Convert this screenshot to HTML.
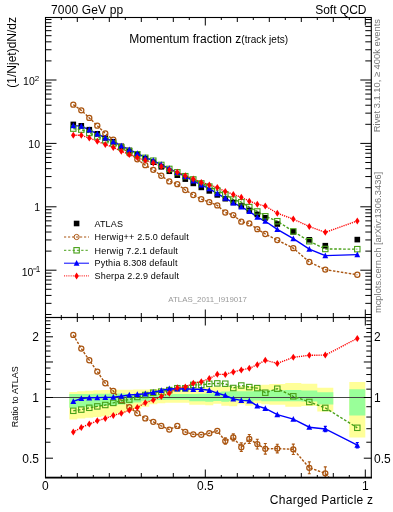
<!DOCTYPE html><html><head><meta charset="utf-8"><style>html,body{margin:0;padding:0;background:#fff;}svg{display:block;}</style></head><body><svg width="393" height="512" viewBox="0 0 393 512">
<rect width="393" height="512" fill="#fff"/>
<defs><clipPath id="cu"><rect x="45.5" y="17.5" width="325" height="300"/></clipPath><clipPath id="cl"><rect x="45.5" y="317.5" width="325" height="160"/></clipPath></defs>
<g clip-path="url(#cl)">
<path d="M69.30,392.00 L77.30,392.00 L77.30,391.30 L85.30,391.30 L85.30,390.80 L93.30,390.80 L93.30,390.30 L101.30,390.30 L101.30,390.00 L109.30,390.00 L109.30,389.80 L117.30,389.80 L117.30,389.80 L125.30,389.80 L125.30,389.70 L133.30,389.70 L133.30,389.60 L141.30,389.60 L141.30,389.40 L149.30,389.40 L149.30,389.10 L157.30,389.10 L157.30,388.70 L165.30,388.70 L165.30,388.00 L173.30,388.00 L173.30,387.80 L181.30,387.80 L181.30,387.60 L189.30,387.60 L189.30,387.40 L197.30,387.40 L197.30,387.20 L205.30,387.20 L205.30,387.00 L213.30,387.00 L213.30,386.80 L221.30,386.80 L221.30,386.60 L229.30,386.60 L229.30,386.40 L237.30,386.40 L237.30,386.20 L245.30,386.20 L245.30,386.00 L253.30,386.00 L253.30,385.50 L261.30,385.50 L261.30,384.80 L269.30,384.80 L269.30,384.00 L285.30,384.00 L285.30,383.00 L301.30,383.00 L301.30,383.70 L317.30,383.70 L317.30,387.80 L333.30,387.80 L333.30,411.60 L317.30,411.60 L317.30,406.10 L301.30,406.10 L301.30,406.70 L285.30,406.70 L285.30,404.70 L269.30,404.70 L269.30,404.20 L261.30,404.20 L261.30,403.30 L253.30,403.30 L253.30,405.70 L245.30,405.70 L245.30,404.20 L237.30,404.20 L237.30,406.20 L229.30,406.20 L229.30,405.70 L221.30,405.70 L221.30,403.70 L213.30,403.70 L213.30,405.30 L205.30,405.30 L205.30,404.80 L197.30,404.80 L197.30,404.80 L189.30,404.80 L189.30,402.70 L181.30,402.70 L181.30,402.70 L173.30,402.70 L173.30,402.70 L165.30,402.70 L165.30,403.20 L157.30,403.20 L157.30,404.20 L149.30,404.20 L149.30,406.80 L141.30,406.80 L141.30,409.00 L133.30,409.00 L133.30,411.00 L125.30,411.00 L125.30,413.00 L117.30,413.00 L117.30,415.00 L109.30,415.00 L109.30,416.20 L101.30,416.20 L101.30,417.00 L93.30,417.00 L93.30,417.80 L85.30,417.80 L85.30,418.60 L77.30,418.60 L77.30,419.40 L69.30,419.40Z M349.30,382.10 L365.30,382.10 L365.30,437.40 L349.30,437.40Z " fill="#ffff99"/>
<path d="M69.30,394.10 L77.30,394.10 L77.30,394.00 L85.30,394.00 L85.30,393.90 L93.30,393.90 L93.30,393.80 L101.30,393.80 L101.30,393.70 L109.30,393.70 L109.30,393.50 L117.30,393.50 L117.30,393.50 L125.30,393.50 L125.30,394.00 L133.30,394.00 L133.30,394.50 L141.30,394.50 L141.30,394.80 L149.30,394.80 L149.30,394.80 L157.30,394.80 L157.30,394.60 L165.30,394.60 L165.30,394.30 L173.30,394.30 L173.30,394.10 L181.30,394.10 L181.30,394.10 L189.30,394.10 L189.30,394.00 L197.30,394.00 L197.30,393.80 L205.30,393.80 L205.30,393.50 L213.30,393.50 L213.30,392.00 L221.30,392.00 L221.30,391.60 L229.30,391.60 L229.30,391.30 L237.30,391.30 L237.30,391.20 L245.30,391.20 L245.30,391.20 L253.30,391.20 L253.30,391.00 L261.30,391.00 L261.30,390.60 L269.30,390.60 L269.30,390.20 L285.30,390.20 L285.30,390.00 L301.30,390.00 L301.30,390.60 L317.30,390.60 L317.30,392.30 L333.30,392.30 L333.30,404.40 L317.30,404.40 L317.30,401.40 L301.30,401.40 L301.30,401.30 L285.30,401.30 L285.30,401.30 L269.30,401.30 L269.30,401.30 L261.30,401.30 L261.30,400.50 L253.30,400.50 L253.30,401.70 L245.30,401.70 L245.30,400.60 L237.30,400.60 L237.30,401.10 L229.30,401.10 L229.30,401.70 L221.30,401.70 L221.30,401.10 L213.30,401.10 L213.30,401.70 L205.30,401.70 L205.30,401.20 L197.30,401.20 L197.30,401.20 L189.30,401.20 L189.30,399.70 L181.30,399.70 L181.30,399.70 L173.30,399.70 L173.30,399.70 L165.30,399.70 L165.30,399.90 L157.30,399.90 L157.30,400.20 L149.30,400.20 L149.30,400.70 L141.30,400.70 L141.30,402.50 L133.30,402.50 L133.30,403.50 L125.30,403.50 L125.30,404.50 L117.30,404.50 L117.30,405.30 L109.30,405.30 L109.30,405.80 L101.30,405.80 L101.30,406.30 L93.30,406.30 L93.30,406.80 L85.30,406.80 L85.30,407.30 L77.30,407.30 L77.30,407.80 L69.30,407.80Z M349.30,389.30 L365.30,389.30 L365.30,415.60 L349.30,415.60Z " fill="#99ff99"/>
<line x1="45.5" y1="397.5" x2="371.3" y2="397.5" stroke="#444" stroke-width="1.0"/>
</g>
<g clip-path="url(#cu)">
<polyline points="73.30,104.65 81.30,110.37 89.30,117.93 97.30,125.63 105.30,133.39 113.30,139.75 121.30,147.21 129.30,153.43 137.30,159.35 145.30,165.19 153.30,169.87 161.30,175.76 169.30,181.38 177.30,184.16 185.30,189.98 193.30,195.01 201.30,199.14 209.30,202.16 217.30,205.40 225.30,212.45 233.30,215.09 241.30,221.68 249.30,223.44 257.30,229.15 265.30,233.98 277.30,240.12 293.30,248.14 309.30,261.98 325.30,269.61 357.30,274.71" fill="none" stroke="#aa5510" stroke-width="1.4" stroke-dasharray="2.5,1.5"/>
<polyline points="73.30,128.60 81.30,129.62 89.30,132.95 97.30,136.61 105.30,140.27 113.30,143.50 121.30,147.31 129.30,151.06 137.30,154.24 145.30,157.81 153.30,160.69 161.30,164.94 169.30,168.92 177.30,172.27 185.30,176.20 193.30,179.43 201.30,183.43 209.30,186.58 217.30,190.45 225.30,194.35 233.30,199.50 241.30,202.21 249.30,207.07 257.30,211.48 265.30,216.29 277.30,221.22 293.30,231.42 309.30,241.22 325.30,248.98 357.30,249.16" fill="none" stroke="#48a018" stroke-width="1.4" stroke-dasharray="2.7,1.75"/>
<polyline points="73.30,125.63 81.30,126.12 89.30,129.79 97.30,133.83 105.30,137.87 113.30,141.71 121.30,145.89 129.30,149.58 137.30,153.45 145.30,157.43 153.30,160.56 161.30,164.56 169.30,168.51 177.30,172.52 185.30,176.36 193.30,180.81 201.30,184.81 209.30,188.63 217.30,193.54 225.30,198.07 233.30,202.94 241.30,206.91 249.30,211.39 257.30,217.10 265.30,221.27 277.30,229.39 293.30,238.61 309.30,249.17 325.30,255.64 357.30,254.65" fill="none" stroke="#0000ff" stroke-width="1.4"/>
<polyline points="73.30,135.28 81.30,135.30 89.30,138.09 97.30,141.15 105.30,144.49 113.30,147.45 121.30,151.25 129.30,154.44 137.30,157.55 145.30,160.24 153.30,162.99 161.30,166.48 169.30,169.93 177.30,172.14 185.30,175.76 193.30,178.89 201.30,182.42 209.30,184.91 217.30,187.58 225.30,191.41 233.30,194.46 241.30,197.29 249.30,201.14 257.30,204.13 265.30,206.03 277.30,213.24 293.30,219.12 309.30,226.49 325.30,232.32 357.30,220.96" fill="none" stroke="#ff0000" stroke-width="1.4" stroke-dasharray="1.2,1.0"/>
<rect x="70.50" y="121.60" width="5.6" height="5.6" fill="#000"/>
<rect x="78.50" y="123.00" width="5.6" height="5.6" fill="#000"/>
<rect x="86.50" y="126.90" width="5.6" height="5.6" fill="#000"/>
<rect x="94.50" y="131.00" width="5.6" height="5.6" fill="#000"/>
<rect x="102.50" y="135.10" width="5.6" height="5.6" fill="#000"/>
<rect x="110.50" y="139.00" width="5.6" height="5.6" fill="#000"/>
<rect x="118.50" y="143.50" width="5.6" height="5.6" fill="#000"/>
<rect x="126.50" y="147.60" width="5.6" height="5.6" fill="#000"/>
<rect x="134.50" y="151.60" width="5.6" height="5.6" fill="#000"/>
<rect x="142.50" y="155.80" width="5.6" height="5.6" fill="#000"/>
<rect x="150.50" y="159.40" width="5.6" height="5.6" fill="#000"/>
<rect x="158.50" y="164.00" width="5.6" height="5.6" fill="#000"/>
<rect x="166.50" y="168.45" width="5.6" height="5.6" fill="#000"/>
<rect x="174.50" y="172.40" width="5.6" height="5.6" fill="#000"/>
<rect x="182.50" y="176.30" width="5.6" height="5.6" fill="#000"/>
<rect x="190.50" y="180.60" width="5.6" height="5.6" fill="#000"/>
<rect x="198.50" y="184.60" width="5.6" height="5.6" fill="#000"/>
<rect x="206.50" y="188.10" width="5.6" height="5.6" fill="#000"/>
<rect x="214.50" y="192.10" width="5.6" height="5.6" fill="#000"/>
<rect x="222.50" y="195.90" width="5.6" height="5.6" fill="#000"/>
<rect x="230.50" y="199.70" width="5.6" height="5.6" fill="#000"/>
<rect x="238.50" y="203.20" width="5.6" height="5.6" fill="#000"/>
<rect x="246.50" y="207.55" width="5.6" height="5.6" fill="#000"/>
<rect x="254.50" y="211.65" width="5.6" height="5.6" fill="#000"/>
<rect x="262.50" y="215.00" width="5.6" height="5.6" fill="#000"/>
<rect x="274.50" y="221.20" width="5.6" height="5.6" fill="#000"/>
<rect x="290.50" y="229.00" width="5.6" height="5.6" fill="#000"/>
<rect x="306.50" y="237.00" width="5.6" height="5.6" fill="#000"/>
<rect x="322.50" y="242.90" width="5.6" height="5.6" fill="#000"/>
<rect x="354.50" y="236.80" width="5.6" height="5.6" fill="#000"/>
<circle cx="73.30" cy="104.65" r="2.55" fill="none" stroke="#aa5510" stroke-width="1.25"/>
<circle cx="81.30" cy="110.37" r="2.55" fill="none" stroke="#aa5510" stroke-width="1.25"/>
<circle cx="89.30" cy="117.93" r="2.55" fill="none" stroke="#aa5510" stroke-width="1.25"/>
<circle cx="97.30" cy="125.63" r="2.55" fill="none" stroke="#aa5510" stroke-width="1.25"/>
<circle cx="105.30" cy="133.39" r="2.55" fill="none" stroke="#aa5510" stroke-width="1.25"/>
<circle cx="113.30" cy="139.75" r="2.55" fill="none" stroke="#aa5510" stroke-width="1.25"/>
<circle cx="121.30" cy="147.21" r="2.55" fill="none" stroke="#aa5510" stroke-width="1.25"/>
<circle cx="129.30" cy="153.43" r="2.55" fill="none" stroke="#aa5510" stroke-width="1.25"/>
<circle cx="137.30" cy="159.35" r="2.55" fill="none" stroke="#aa5510" stroke-width="1.25"/>
<circle cx="145.30" cy="165.19" r="2.55" fill="none" stroke="#aa5510" stroke-width="1.25"/>
<circle cx="153.30" cy="169.87" r="2.55" fill="none" stroke="#aa5510" stroke-width="1.25"/>
<circle cx="161.30" cy="175.76" r="2.55" fill="none" stroke="#aa5510" stroke-width="1.25"/>
<circle cx="169.30" cy="181.38" r="2.55" fill="none" stroke="#aa5510" stroke-width="1.25"/>
<circle cx="177.30" cy="184.16" r="2.55" fill="none" stroke="#aa5510" stroke-width="1.25"/>
<circle cx="185.30" cy="189.98" r="2.55" fill="none" stroke="#aa5510" stroke-width="1.25"/>
<circle cx="193.30" cy="195.01" r="2.55" fill="none" stroke="#aa5510" stroke-width="1.25"/>
<circle cx="201.30" cy="199.14" r="2.55" fill="none" stroke="#aa5510" stroke-width="1.25"/>
<circle cx="209.30" cy="202.16" r="2.55" fill="none" stroke="#aa5510" stroke-width="1.25"/>
<circle cx="217.30" cy="205.40" r="2.55" fill="none" stroke="#aa5510" stroke-width="1.25"/>
<circle cx="225.30" cy="212.45" r="2.55" fill="none" stroke="#aa5510" stroke-width="1.25"/>
<circle cx="233.30" cy="215.09" r="2.55" fill="none" stroke="#aa5510" stroke-width="1.25"/>
<circle cx="241.30" cy="221.68" r="2.55" fill="none" stroke="#aa5510" stroke-width="1.25"/>
<circle cx="249.30" cy="223.44" r="2.55" fill="none" stroke="#aa5510" stroke-width="1.25"/>
<circle cx="257.30" cy="229.15" r="2.55" fill="none" stroke="#aa5510" stroke-width="1.25"/>
<circle cx="265.30" cy="233.98" r="2.55" fill="none" stroke="#aa5510" stroke-width="1.25"/>
<circle cx="277.30" cy="240.12" r="2.55" fill="none" stroke="#aa5510" stroke-width="1.25"/>
<circle cx="293.30" cy="248.14" r="2.55" fill="none" stroke="#aa5510" stroke-width="1.25"/>
<circle cx="309.30" cy="261.98" r="2.55" fill="none" stroke="#aa5510" stroke-width="1.25"/>
<circle cx="325.30" cy="269.61" r="2.55" fill="none" stroke="#aa5510" stroke-width="1.25"/>
<circle cx="357.30" cy="274.71" r="2.55" fill="none" stroke="#aa5510" stroke-width="1.25"/>
<rect x="70.60" y="125.90" width="5.4" height="5.4" fill="none" stroke="#48a018" stroke-width="1.1"/>
<rect x="78.60" y="126.92" width="5.4" height="5.4" fill="none" stroke="#48a018" stroke-width="1.1"/>
<rect x="86.60" y="130.25" width="5.4" height="5.4" fill="none" stroke="#48a018" stroke-width="1.1"/>
<rect x="94.60" y="133.91" width="5.4" height="5.4" fill="none" stroke="#48a018" stroke-width="1.1"/>
<rect x="102.60" y="137.57" width="5.4" height="5.4" fill="none" stroke="#48a018" stroke-width="1.1"/>
<rect x="110.60" y="140.80" width="5.4" height="5.4" fill="none" stroke="#48a018" stroke-width="1.1"/>
<rect x="118.60" y="144.61" width="5.4" height="5.4" fill="none" stroke="#48a018" stroke-width="1.1"/>
<rect x="126.60" y="148.36" width="5.4" height="5.4" fill="none" stroke="#48a018" stroke-width="1.1"/>
<rect x="134.60" y="151.54" width="5.4" height="5.4" fill="none" stroke="#48a018" stroke-width="1.1"/>
<rect x="142.60" y="155.11" width="5.4" height="5.4" fill="none" stroke="#48a018" stroke-width="1.1"/>
<rect x="150.60" y="157.99" width="5.4" height="5.4" fill="none" stroke="#48a018" stroke-width="1.1"/>
<rect x="158.60" y="162.24" width="5.4" height="5.4" fill="none" stroke="#48a018" stroke-width="1.1"/>
<rect x="166.60" y="166.22" width="5.4" height="5.4" fill="none" stroke="#48a018" stroke-width="1.1"/>
<rect x="174.60" y="169.57" width="5.4" height="5.4" fill="none" stroke="#48a018" stroke-width="1.1"/>
<rect x="182.60" y="173.50" width="5.4" height="5.4" fill="none" stroke="#48a018" stroke-width="1.1"/>
<rect x="190.60" y="176.73" width="5.4" height="5.4" fill="none" stroke="#48a018" stroke-width="1.1"/>
<rect x="198.60" y="180.73" width="5.4" height="5.4" fill="none" stroke="#48a018" stroke-width="1.1"/>
<rect x="206.60" y="183.88" width="5.4" height="5.4" fill="none" stroke="#48a018" stroke-width="1.1"/>
<rect x="214.60" y="187.75" width="5.4" height="5.4" fill="none" stroke="#48a018" stroke-width="1.1"/>
<rect x="222.60" y="191.65" width="5.4" height="5.4" fill="none" stroke="#48a018" stroke-width="1.1"/>
<rect x="230.60" y="196.80" width="5.4" height="5.4" fill="none" stroke="#48a018" stroke-width="1.1"/>
<rect x="238.60" y="199.51" width="5.4" height="5.4" fill="none" stroke="#48a018" stroke-width="1.1"/>
<rect x="246.60" y="204.37" width="5.4" height="5.4" fill="none" stroke="#48a018" stroke-width="1.1"/>
<rect x="254.60" y="208.78" width="5.4" height="5.4" fill="none" stroke="#48a018" stroke-width="1.1"/>
<rect x="262.60" y="213.59" width="5.4" height="5.4" fill="none" stroke="#48a018" stroke-width="1.1"/>
<rect x="274.60" y="218.52" width="5.4" height="5.4" fill="none" stroke="#48a018" stroke-width="1.1"/>
<rect x="290.60" y="228.72" width="5.4" height="5.4" fill="none" stroke="#48a018" stroke-width="1.1"/>
<rect x="306.60" y="238.52" width="5.4" height="5.4" fill="none" stroke="#48a018" stroke-width="1.1"/>
<rect x="322.60" y="246.28" width="5.4" height="5.4" fill="none" stroke="#48a018" stroke-width="1.1"/>
<rect x="354.60" y="246.46" width="5.4" height="5.4" fill="none" stroke="#48a018" stroke-width="1.1"/>
<path d="M73.30,122.43 L76.20,128.23 L70.40,128.23Z" fill="#0000ff"/>
<path d="M81.30,122.92 L84.20,128.72 L78.40,128.72Z" fill="#0000ff"/>
<path d="M89.30,126.59 L92.20,132.39 L86.40,132.39Z" fill="#0000ff"/>
<path d="M97.30,130.63 L100.20,136.43 L94.40,136.43Z" fill="#0000ff"/>
<path d="M105.30,134.67 L108.20,140.47 L102.40,140.47Z" fill="#0000ff"/>
<path d="M113.30,138.51 L116.20,144.31 L110.40,144.31Z" fill="#0000ff"/>
<path d="M121.30,142.69 L124.20,148.49 L118.40,148.49Z" fill="#0000ff"/>
<path d="M129.30,146.38 L132.20,152.18 L126.40,152.18Z" fill="#0000ff"/>
<path d="M137.30,150.25 L140.20,156.05 L134.40,156.05Z" fill="#0000ff"/>
<path d="M145.30,154.23 L148.20,160.03 L142.40,160.03Z" fill="#0000ff"/>
<path d="M153.30,157.36 L156.20,163.16 L150.40,163.16Z" fill="#0000ff"/>
<path d="M161.30,161.36 L164.20,167.16 L158.40,167.16Z" fill="#0000ff"/>
<path d="M169.30,165.31 L172.20,171.11 L166.40,171.11Z" fill="#0000ff"/>
<path d="M177.30,169.32 L180.20,175.12 L174.40,175.12Z" fill="#0000ff"/>
<path d="M185.30,173.16 L188.20,178.96 L182.40,178.96Z" fill="#0000ff"/>
<path d="M193.30,177.61 L196.20,183.41 L190.40,183.41Z" fill="#0000ff"/>
<path d="M201.30,181.61 L204.20,187.41 L198.40,187.41Z" fill="#0000ff"/>
<path d="M209.30,185.43 L212.20,191.23 L206.40,191.23Z" fill="#0000ff"/>
<path d="M217.30,190.34 L220.20,196.14 L214.40,196.14Z" fill="#0000ff"/>
<path d="M225.30,194.87 L228.20,200.67 L222.40,200.67Z" fill="#0000ff"/>
<path d="M233.30,199.74 L236.20,205.54 L230.40,205.54Z" fill="#0000ff"/>
<path d="M241.30,203.71 L244.20,209.51 L238.40,209.51Z" fill="#0000ff"/>
<path d="M249.30,208.19 L252.20,213.99 L246.40,213.99Z" fill="#0000ff"/>
<path d="M257.30,213.90 L260.20,219.70 L254.40,219.70Z" fill="#0000ff"/>
<path d="M265.30,218.07 L268.20,223.87 L262.40,223.87Z" fill="#0000ff"/>
<path d="M277.30,226.19 L280.20,231.99 L274.40,231.99Z" fill="#0000ff"/>
<path d="M293.30,235.41 L296.20,241.21 L290.40,241.21Z" fill="#0000ff"/>
<path d="M309.30,245.97 L312.20,251.77 L306.40,251.77Z" fill="#0000ff"/>
<path d="M325.30,252.44 L328.20,258.24 L322.40,258.24Z" fill="#0000ff"/>
<path d="M357.30,251.45 L360.20,257.25 L354.40,257.25Z" fill="#0000ff"/>
<path d="M73.30,131.78 L75.60,135.28 L73.30,138.78 L71.00,135.28Z" fill="#ff0000"/>
<path d="M81.30,131.80 L83.60,135.30 L81.30,138.80 L79.00,135.30Z" fill="#ff0000"/>
<path d="M89.30,134.59 L91.60,138.09 L89.30,141.59 L87.00,138.09Z" fill="#ff0000"/>
<path d="M97.30,137.65 L99.60,141.15 L97.30,144.65 L95.00,141.15Z" fill="#ff0000"/>
<path d="M105.30,140.99 L107.60,144.49 L105.30,147.99 L103.00,144.49Z" fill="#ff0000"/>
<path d="M113.30,143.95 L115.60,147.45 L113.30,150.95 L111.00,147.45Z" fill="#ff0000"/>
<path d="M121.30,147.75 L123.60,151.25 L121.30,154.75 L119.00,151.25Z" fill="#ff0000"/>
<path d="M129.30,150.94 L131.60,154.44 L129.30,157.94 L127.00,154.44Z" fill="#ff0000"/>
<path d="M137.30,154.05 L139.60,157.55 L137.30,161.05 L135.00,157.55Z" fill="#ff0000"/>
<path d="M145.30,156.74 L147.60,160.24 L145.30,163.74 L143.00,160.24Z" fill="#ff0000"/>
<path d="M153.30,159.49 L155.60,162.99 L153.30,166.49 L151.00,162.99Z" fill="#ff0000"/>
<path d="M161.30,162.98 L163.60,166.48 L161.30,169.98 L159.00,166.48Z" fill="#ff0000"/>
<path d="M169.30,166.43 L171.60,169.93 L169.30,173.43 L167.00,169.93Z" fill="#ff0000"/>
<path d="M177.30,168.64 L179.60,172.14 L177.30,175.64 L175.00,172.14Z" fill="#ff0000"/>
<path d="M185.30,172.26 L187.60,175.76 L185.30,179.26 L183.00,175.76Z" fill="#ff0000"/>
<path d="M193.30,175.39 L195.60,178.89 L193.30,182.39 L191.00,178.89Z" fill="#ff0000"/>
<path d="M201.30,178.92 L203.60,182.42 L201.30,185.92 L199.00,182.42Z" fill="#ff0000"/>
<path d="M209.30,181.41 L211.60,184.91 L209.30,188.41 L207.00,184.91Z" fill="#ff0000"/>
<path d="M217.30,184.08 L219.60,187.58 L217.30,191.08 L215.00,187.58Z" fill="#ff0000"/>
<path d="M225.30,187.91 L227.60,191.41 L225.30,194.91 L223.00,191.41Z" fill="#ff0000"/>
<path d="M233.30,190.96 L235.60,194.46 L233.30,197.96 L231.00,194.46Z" fill="#ff0000"/>
<path d="M241.30,193.79 L243.60,197.29 L241.30,200.79 L239.00,197.29Z" fill="#ff0000"/>
<path d="M249.30,197.64 L251.60,201.14 L249.30,204.64 L247.00,201.14Z" fill="#ff0000"/>
<path d="M257.30,200.63 L259.60,204.13 L257.30,207.63 L255.00,204.13Z" fill="#ff0000"/>
<path d="M265.30,202.53 L267.60,206.03 L265.30,209.53 L263.00,206.03Z" fill="#ff0000"/>
<path d="M277.30,209.74 L279.60,213.24 L277.30,216.74 L275.00,213.24Z" fill="#ff0000"/>
<path d="M293.30,215.62 L295.60,219.12 L293.30,222.62 L291.00,219.12Z" fill="#ff0000"/>
<path d="M309.30,222.99 L311.60,226.49 L309.30,229.99 L307.00,226.49Z" fill="#ff0000"/>
<path d="M325.30,228.82 L327.60,232.32 L325.30,235.82 L323.00,232.32Z" fill="#ff0000"/>
<path d="M357.30,217.46 L359.60,220.96 L357.30,224.46 L355.00,220.96Z" fill="#ff0000"/>
</g>
<g clip-path="url(#cl)">
<path d="M225.30,437.90V444.30M223.80,437.90h3M223.80,444.30h3 M233.30,433.90V440.90M231.80,433.90h3M231.80,440.90h3 M241.30,442.85V451.55M239.80,442.85h3M239.80,451.55h3 M249.30,434.45V443.55M247.80,434.45h3M247.80,443.55h3 M257.30,439.25V448.95M255.80,439.25h3M255.80,448.95h3 M265.30,443.45V454.15M263.80,443.45h3M263.80,454.15h3 M277.30,444.30V452.90M275.80,444.30h3M275.80,452.90h3 M293.30,444.10V454.50M291.80,444.10h3M291.80,454.50h3 M309.30,461.90V473.70M307.80,461.90h3M307.80,473.70h3 M325.30,466.90V479.70M323.80,466.90h3M323.80,479.70h3" stroke="#aa5510" stroke-width="1.1" fill="none"/>
<path d="M325.30,426.40V431.60M323.80,426.40h3M323.80,431.60h3 M357.30,442.50V447.90M355.80,442.50h3M355.80,447.90h3" stroke="#0000ff" stroke-width="1.2" fill="none"/>
<polyline points="73.30,334.90 81.30,348.60 89.30,360.20 97.30,371.60 105.30,383.20 113.30,391.00 121.30,400.40 129.30,407.10 137.30,413.20 145.30,418.40 153.30,421.80 161.30,425.90 169.30,429.60 177.30,425.90 185.30,432.00 193.30,434.30 201.30,434.70 209.30,433.20 217.30,430.80 225.30,441.10 233.30,437.40 241.30,447.20 249.30,439.00 257.30,444.10 265.30,448.80 277.30,448.60 293.30,449.30 309.30,467.80 325.30,473.30 357.30,508.80" fill="none" stroke="#aa5510" stroke-width="1.4" stroke-dasharray="2.5,1.5"/>
<circle cx="73.30" cy="334.90" r="2.55" fill="none" stroke="#aa5510" stroke-width="1.25"/>
<circle cx="81.30" cy="348.60" r="2.55" fill="none" stroke="#aa5510" stroke-width="1.25"/>
<circle cx="89.30" cy="360.20" r="2.55" fill="none" stroke="#aa5510" stroke-width="1.25"/>
<circle cx="97.30" cy="371.60" r="2.55" fill="none" stroke="#aa5510" stroke-width="1.25"/>
<circle cx="105.30" cy="383.20" r="2.55" fill="none" stroke="#aa5510" stroke-width="1.25"/>
<circle cx="113.30" cy="391.00" r="2.55" fill="none" stroke="#aa5510" stroke-width="1.25"/>
<circle cx="121.30" cy="400.40" r="2.55" fill="none" stroke="#aa5510" stroke-width="1.25"/>
<circle cx="129.30" cy="407.10" r="2.55" fill="none" stroke="#aa5510" stroke-width="1.25"/>
<circle cx="137.30" cy="413.20" r="2.55" fill="none" stroke="#aa5510" stroke-width="1.25"/>
<circle cx="145.30" cy="418.40" r="2.55" fill="none" stroke="#aa5510" stroke-width="1.25"/>
<circle cx="153.30" cy="421.80" r="2.55" fill="none" stroke="#aa5510" stroke-width="1.25"/>
<circle cx="161.30" cy="425.90" r="2.55" fill="none" stroke="#aa5510" stroke-width="1.25"/>
<circle cx="169.30" cy="429.60" r="2.55" fill="none" stroke="#aa5510" stroke-width="1.25"/>
<circle cx="177.30" cy="425.90" r="2.55" fill="none" stroke="#aa5510" stroke-width="1.25"/>
<circle cx="185.30" cy="432.00" r="2.55" fill="none" stroke="#aa5510" stroke-width="1.25"/>
<circle cx="193.30" cy="434.30" r="2.55" fill="none" stroke="#aa5510" stroke-width="1.25"/>
<circle cx="201.30" cy="434.70" r="2.55" fill="none" stroke="#aa5510" stroke-width="1.25"/>
<circle cx="209.30" cy="433.20" r="2.55" fill="none" stroke="#aa5510" stroke-width="1.25"/>
<circle cx="217.30" cy="430.80" r="2.55" fill="none" stroke="#aa5510" stroke-width="1.25"/>
<circle cx="225.30" cy="441.10" r="2.55" fill="none" stroke="#aa5510" stroke-width="1.25"/>
<circle cx="233.30" cy="437.40" r="2.55" fill="none" stroke="#aa5510" stroke-width="1.25"/>
<circle cx="241.30" cy="447.20" r="2.55" fill="none" stroke="#aa5510" stroke-width="1.25"/>
<circle cx="249.30" cy="439.00" r="2.55" fill="none" stroke="#aa5510" stroke-width="1.25"/>
<circle cx="257.30" cy="444.10" r="2.55" fill="none" stroke="#aa5510" stroke-width="1.25"/>
<circle cx="265.30" cy="448.80" r="2.55" fill="none" stroke="#aa5510" stroke-width="1.25"/>
<circle cx="277.30" cy="448.60" r="2.55" fill="none" stroke="#aa5510" stroke-width="1.25"/>
<circle cx="293.30" cy="449.30" r="2.55" fill="none" stroke="#aa5510" stroke-width="1.25"/>
<circle cx="309.30" cy="467.80" r="2.55" fill="none" stroke="#aa5510" stroke-width="1.25"/>
<circle cx="325.30" cy="473.30" r="2.55" fill="none" stroke="#aa5510" stroke-width="1.25"/>
<circle cx="357.30" cy="508.80" r="2.55" fill="none" stroke="#aa5510" stroke-width="1.25"/>
<polyline points="73.30,410.80 81.30,409.60 89.30,407.80 97.30,406.40 105.30,405.00 113.30,402.90 121.30,400.70 129.30,399.60 137.30,397.00 145.30,395.00 153.30,392.70 161.30,391.60 169.30,390.10 177.30,388.20 185.30,388.30 193.30,384.90 201.30,384.90 209.30,383.80 217.30,383.40 225.30,383.70 233.30,388.00 241.30,385.50 249.30,387.10 257.30,388.10 265.30,392.70 277.30,388.70 293.30,396.30 309.30,402.00 325.30,407.90 357.30,427.80" fill="none" stroke="#48a018" stroke-width="1.4" stroke-dasharray="2.7,1.75"/>
<rect x="70.60" y="408.10" width="5.4" height="5.4" fill="none" stroke="#48a018" stroke-width="1.1"/>
<rect x="78.60" y="406.90" width="5.4" height="5.4" fill="none" stroke="#48a018" stroke-width="1.1"/>
<rect x="86.60" y="405.10" width="5.4" height="5.4" fill="none" stroke="#48a018" stroke-width="1.1"/>
<rect x="94.60" y="403.70" width="5.4" height="5.4" fill="none" stroke="#48a018" stroke-width="1.1"/>
<rect x="102.60" y="402.30" width="5.4" height="5.4" fill="none" stroke="#48a018" stroke-width="1.1"/>
<rect x="110.60" y="400.20" width="5.4" height="5.4" fill="none" stroke="#48a018" stroke-width="1.1"/>
<rect x="118.60" y="398.00" width="5.4" height="5.4" fill="none" stroke="#48a018" stroke-width="1.1"/>
<rect x="126.60" y="396.90" width="5.4" height="5.4" fill="none" stroke="#48a018" stroke-width="1.1"/>
<rect x="134.60" y="394.30" width="5.4" height="5.4" fill="none" stroke="#48a018" stroke-width="1.1"/>
<rect x="142.60" y="392.30" width="5.4" height="5.4" fill="none" stroke="#48a018" stroke-width="1.1"/>
<rect x="150.60" y="390.00" width="5.4" height="5.4" fill="none" stroke="#48a018" stroke-width="1.1"/>
<rect x="158.60" y="388.90" width="5.4" height="5.4" fill="none" stroke="#48a018" stroke-width="1.1"/>
<rect x="166.60" y="387.40" width="5.4" height="5.4" fill="none" stroke="#48a018" stroke-width="1.1"/>
<rect x="174.60" y="385.50" width="5.4" height="5.4" fill="none" stroke="#48a018" stroke-width="1.1"/>
<rect x="182.60" y="385.60" width="5.4" height="5.4" fill="none" stroke="#48a018" stroke-width="1.1"/>
<rect x="190.60" y="382.20" width="5.4" height="5.4" fill="none" stroke="#48a018" stroke-width="1.1"/>
<rect x="198.60" y="382.20" width="5.4" height="5.4" fill="none" stroke="#48a018" stroke-width="1.1"/>
<rect x="206.60" y="381.10" width="5.4" height="5.4" fill="none" stroke="#48a018" stroke-width="1.1"/>
<rect x="214.60" y="380.70" width="5.4" height="5.4" fill="none" stroke="#48a018" stroke-width="1.1"/>
<rect x="222.60" y="381.00" width="5.4" height="5.4" fill="none" stroke="#48a018" stroke-width="1.1"/>
<rect x="230.60" y="385.30" width="5.4" height="5.4" fill="none" stroke="#48a018" stroke-width="1.1"/>
<rect x="238.60" y="382.80" width="5.4" height="5.4" fill="none" stroke="#48a018" stroke-width="1.1"/>
<rect x="246.60" y="384.40" width="5.4" height="5.4" fill="none" stroke="#48a018" stroke-width="1.1"/>
<rect x="254.60" y="385.40" width="5.4" height="5.4" fill="none" stroke="#48a018" stroke-width="1.1"/>
<rect x="262.60" y="390.00" width="5.4" height="5.4" fill="none" stroke="#48a018" stroke-width="1.1"/>
<rect x="274.60" y="386.00" width="5.4" height="5.4" fill="none" stroke="#48a018" stroke-width="1.1"/>
<rect x="290.60" y="393.60" width="5.4" height="5.4" fill="none" stroke="#48a018" stroke-width="1.1"/>
<rect x="306.60" y="399.30" width="5.4" height="5.4" fill="none" stroke="#48a018" stroke-width="1.1"/>
<rect x="322.60" y="405.20" width="5.4" height="5.4" fill="none" stroke="#48a018" stroke-width="1.1"/>
<rect x="354.60" y="425.10" width="5.4" height="5.4" fill="none" stroke="#48a018" stroke-width="1.1"/>
<polyline points="73.30,401.40 81.30,398.50 89.30,397.80 97.30,397.60 105.30,397.40 113.30,397.20 121.30,396.20 129.30,394.90 137.30,394.50 145.30,393.80 153.30,392.30 161.30,390.40 169.30,388.80 177.30,389.00 185.30,388.80 193.30,389.30 201.30,389.30 209.30,390.30 217.30,393.20 225.30,395.50 233.30,398.90 241.30,400.40 249.30,400.80 257.30,405.90 265.30,408.50 277.30,414.60 293.30,419.10 309.30,427.20 325.30,429.00 357.30,445.20" fill="none" stroke="#0000ff" stroke-width="1.4"/>
<path d="M73.30,398.20 L76.20,404.00 L70.40,404.00Z" fill="#0000ff"/>
<path d="M81.30,395.30 L84.20,401.10 L78.40,401.10Z" fill="#0000ff"/>
<path d="M89.30,394.60 L92.20,400.40 L86.40,400.40Z" fill="#0000ff"/>
<path d="M97.30,394.40 L100.20,400.20 L94.40,400.20Z" fill="#0000ff"/>
<path d="M105.30,394.20 L108.20,400.00 L102.40,400.00Z" fill="#0000ff"/>
<path d="M113.30,394.00 L116.20,399.80 L110.40,399.80Z" fill="#0000ff"/>
<path d="M121.30,393.00 L124.20,398.80 L118.40,398.80Z" fill="#0000ff"/>
<path d="M129.30,391.70 L132.20,397.50 L126.40,397.50Z" fill="#0000ff"/>
<path d="M137.30,391.30 L140.20,397.10 L134.40,397.10Z" fill="#0000ff"/>
<path d="M145.30,390.60 L148.20,396.40 L142.40,396.40Z" fill="#0000ff"/>
<path d="M153.30,389.10 L156.20,394.90 L150.40,394.90Z" fill="#0000ff"/>
<path d="M161.30,387.20 L164.20,393.00 L158.40,393.00Z" fill="#0000ff"/>
<path d="M169.30,385.60 L172.20,391.40 L166.40,391.40Z" fill="#0000ff"/>
<path d="M177.30,385.80 L180.20,391.60 L174.40,391.60Z" fill="#0000ff"/>
<path d="M185.30,385.60 L188.20,391.40 L182.40,391.40Z" fill="#0000ff"/>
<path d="M193.30,386.10 L196.20,391.90 L190.40,391.90Z" fill="#0000ff"/>
<path d="M201.30,386.10 L204.20,391.90 L198.40,391.90Z" fill="#0000ff"/>
<path d="M209.30,387.10 L212.20,392.90 L206.40,392.90Z" fill="#0000ff"/>
<path d="M217.30,390.00 L220.20,395.80 L214.40,395.80Z" fill="#0000ff"/>
<path d="M225.30,392.30 L228.20,398.10 L222.40,398.10Z" fill="#0000ff"/>
<path d="M233.30,395.70 L236.20,401.50 L230.40,401.50Z" fill="#0000ff"/>
<path d="M241.30,397.20 L244.20,403.00 L238.40,403.00Z" fill="#0000ff"/>
<path d="M249.30,397.60 L252.20,403.40 L246.40,403.40Z" fill="#0000ff"/>
<path d="M257.30,402.70 L260.20,408.50 L254.40,408.50Z" fill="#0000ff"/>
<path d="M265.30,405.30 L268.20,411.10 L262.40,411.10Z" fill="#0000ff"/>
<path d="M277.30,411.40 L280.20,417.20 L274.40,417.20Z" fill="#0000ff"/>
<path d="M293.30,415.90 L296.20,421.70 L290.40,421.70Z" fill="#0000ff"/>
<path d="M309.30,424.00 L312.20,429.80 L306.40,429.80Z" fill="#0000ff"/>
<path d="M325.30,425.80 L328.20,431.60 L322.40,431.60Z" fill="#0000ff"/>
<path d="M357.30,442.00 L360.20,447.80 L354.40,447.80Z" fill="#0000ff"/>
<polyline points="73.30,432.00 81.30,427.60 89.30,424.10 97.30,420.80 105.30,418.40 113.30,415.40 121.30,413.20 129.30,410.30 137.30,407.50 145.30,402.70 153.30,400.00 161.30,396.50 169.30,393.30 177.30,387.80 185.30,386.90 193.30,383.20 201.30,381.70 209.30,378.50 217.30,374.30 225.30,374.40 233.30,372.00 241.30,369.90 249.30,368.30 257.30,364.80 265.30,360.20 277.30,363.40 293.30,357.30 309.30,355.30 325.30,355.10 357.30,338.40" fill="none" stroke="#ff0000" stroke-width="1.4" stroke-dasharray="1.2,1.0"/>
<path d="M73.30,428.50 L75.60,432.00 L73.30,435.50 L71.00,432.00Z" fill="#ff0000"/>
<path d="M81.30,424.10 L83.60,427.60 L81.30,431.10 L79.00,427.60Z" fill="#ff0000"/>
<path d="M89.30,420.60 L91.60,424.10 L89.30,427.60 L87.00,424.10Z" fill="#ff0000"/>
<path d="M97.30,417.30 L99.60,420.80 L97.30,424.30 L95.00,420.80Z" fill="#ff0000"/>
<path d="M105.30,414.90 L107.60,418.40 L105.30,421.90 L103.00,418.40Z" fill="#ff0000"/>
<path d="M113.30,411.90 L115.60,415.40 L113.30,418.90 L111.00,415.40Z" fill="#ff0000"/>
<path d="M121.30,409.70 L123.60,413.20 L121.30,416.70 L119.00,413.20Z" fill="#ff0000"/>
<path d="M129.30,406.80 L131.60,410.30 L129.30,413.80 L127.00,410.30Z" fill="#ff0000"/>
<path d="M137.30,404.00 L139.60,407.50 L137.30,411.00 L135.00,407.50Z" fill="#ff0000"/>
<path d="M145.30,399.20 L147.60,402.70 L145.30,406.20 L143.00,402.70Z" fill="#ff0000"/>
<path d="M153.30,396.50 L155.60,400.00 L153.30,403.50 L151.00,400.00Z" fill="#ff0000"/>
<path d="M161.30,393.00 L163.60,396.50 L161.30,400.00 L159.00,396.50Z" fill="#ff0000"/>
<path d="M169.30,389.80 L171.60,393.30 L169.30,396.80 L167.00,393.30Z" fill="#ff0000"/>
<path d="M177.30,384.30 L179.60,387.80 L177.30,391.30 L175.00,387.80Z" fill="#ff0000"/>
<path d="M185.30,383.40 L187.60,386.90 L185.30,390.40 L183.00,386.90Z" fill="#ff0000"/>
<path d="M193.30,379.70 L195.60,383.20 L193.30,386.70 L191.00,383.20Z" fill="#ff0000"/>
<path d="M201.30,378.20 L203.60,381.70 L201.30,385.20 L199.00,381.70Z" fill="#ff0000"/>
<path d="M209.30,375.00 L211.60,378.50 L209.30,382.00 L207.00,378.50Z" fill="#ff0000"/>
<path d="M217.30,370.80 L219.60,374.30 L217.30,377.80 L215.00,374.30Z" fill="#ff0000"/>
<path d="M225.30,370.90 L227.60,374.40 L225.30,377.90 L223.00,374.40Z" fill="#ff0000"/>
<path d="M233.30,368.50 L235.60,372.00 L233.30,375.50 L231.00,372.00Z" fill="#ff0000"/>
<path d="M241.30,366.40 L243.60,369.90 L241.30,373.40 L239.00,369.90Z" fill="#ff0000"/>
<path d="M249.30,364.80 L251.60,368.30 L249.30,371.80 L247.00,368.30Z" fill="#ff0000"/>
<path d="M257.30,361.30 L259.60,364.80 L257.30,368.30 L255.00,364.80Z" fill="#ff0000"/>
<path d="M265.30,356.70 L267.60,360.20 L265.30,363.70 L263.00,360.20Z" fill="#ff0000"/>
<path d="M277.30,359.90 L279.60,363.40 L277.30,366.90 L275.00,363.40Z" fill="#ff0000"/>
<path d="M293.30,353.80 L295.60,357.30 L293.30,360.80 L291.00,357.30Z" fill="#ff0000"/>
<path d="M309.30,351.80 L311.60,355.30 L309.30,358.80 L307.00,355.30Z" fill="#ff0000"/>
<path d="M325.30,351.60 L327.60,355.10 L325.30,358.60 L323.00,355.10Z" fill="#ff0000"/>
<path d="M357.30,334.90 L359.60,338.40 L357.30,341.90 L355.00,338.40Z" fill="#ff0000"/>
</g>
<g stroke="#000" fill="none">
<rect x="45.5" y="17.5" width="325.8" height="300" stroke-width="1.1"/>
<rect x="45.5" y="317.5" width="325.8" height="160" stroke-width="1.1"/>
<line x1="45" y1="477.6" x2="372" y2="477.6" stroke-width="1.6"/>
<path d="M61.30,17.5v2.5 M61.30,317.5v-2.5 M61.30,317.5v2.5 M61.30,477.5v-2.5 M77.30,17.5v4.5 M77.30,317.5v-4.5 M77.30,317.5v4.5 M77.30,477.5v-4.5 M93.30,17.5v2.5 M93.30,317.5v-2.5 M93.30,317.5v2.5 M93.30,477.5v-2.5 M109.30,17.5v4.5 M109.30,317.5v-4.5 M109.30,317.5v4.5 M109.30,477.5v-4.5 M125.30,17.5v2.5 M125.30,317.5v-2.5 M125.30,317.5v2.5 M125.30,477.5v-2.5 M141.30,17.5v4.5 M141.30,317.5v-4.5 M141.30,317.5v4.5 M141.30,477.5v-4.5 M157.30,17.5v2.5 M157.30,317.5v-2.5 M157.30,317.5v2.5 M157.30,477.5v-2.5 M173.30,17.5v4.5 M173.30,317.5v-4.5 M173.30,317.5v4.5 M173.30,477.5v-4.5 M189.30,17.5v2.5 M189.30,317.5v-2.5 M189.30,317.5v2.5 M189.30,477.5v-2.5 M205.30,17.5v8 M205.30,317.5v-8 M205.30,317.5v8 M205.30,477.5v-8 M221.30,17.5v2.5 M221.30,317.5v-2.5 M221.30,317.5v2.5 M221.30,477.5v-2.5 M237.30,17.5v4.5 M237.30,317.5v-4.5 M237.30,317.5v4.5 M237.30,477.5v-4.5 M253.30,17.5v2.5 M253.30,317.5v-2.5 M253.30,317.5v2.5 M253.30,477.5v-2.5 M269.30,17.5v4.5 M269.30,317.5v-4.5 M269.30,317.5v4.5 M269.30,477.5v-4.5 M285.30,17.5v2.5 M285.30,317.5v-2.5 M285.30,317.5v2.5 M285.30,477.5v-2.5 M301.30,17.5v4.5 M301.30,317.5v-4.5 M301.30,317.5v4.5 M301.30,477.5v-4.5 M317.30,17.5v2.5 M317.30,317.5v-2.5 M317.30,317.5v2.5 M317.30,477.5v-2.5 M333.30,17.5v4.5 M333.30,317.5v-4.5 M333.30,317.5v4.5 M333.30,477.5v-4.5 M349.30,17.5v2.5 M349.30,317.5v-2.5 M349.30,317.5v2.5 M349.30,477.5v-2.5 M365.30,17.5v8 M365.30,317.5v-8 M365.30,317.5v8 M365.30,477.5v-8 M45.5,314.51h6 M371.3,314.51h-6 M45.5,303.35h6 M371.3,303.35h-6 M45.5,295.43h6 M371.3,295.43h-6 M45.5,289.29h6 M371.3,289.29h-6 M45.5,284.27h6 M371.3,284.27h-6 M45.5,280.02h6 M371.3,280.02h-6 M45.5,276.34h6 M371.3,276.34h-6 M45.5,273.10h6 M371.3,273.10h-6 M45.5,270.20h11 M371.3,270.20h-11 M45.5,251.11h6 M371.3,251.11h-6 M45.5,239.95h6 M371.3,239.95h-6 M45.5,232.03h6 M371.3,232.03h-6 M45.5,225.89h6 M371.3,225.89h-6 M45.5,220.87h6 M371.3,220.87h-6 M45.5,216.62h6 M371.3,216.62h-6 M45.5,212.94h6 M371.3,212.94h-6 M45.5,209.70h6 M371.3,209.70h-6 M45.5,206.80h11 M371.3,206.80h-11 M45.5,187.71h6 M371.3,187.71h-6 M45.5,176.55h6 M371.3,176.55h-6 M45.5,168.63h6 M371.3,168.63h-6 M45.5,162.49h6 M371.3,162.49h-6 M45.5,157.47h6 M371.3,157.47h-6 M45.5,153.22h6 M371.3,153.22h-6 M45.5,149.54h6 M371.3,149.54h-6 M45.5,146.30h6 M371.3,146.30h-6 M45.5,143.40h11 M371.3,143.40h-11 M45.5,124.31h6 M371.3,124.31h-6 M45.5,113.15h6 M371.3,113.15h-6 M45.5,105.23h6 M371.3,105.23h-6 M45.5,99.09h6 M371.3,99.09h-6 M45.5,94.07h6 M371.3,94.07h-6 M45.5,89.82h6 M371.3,89.82h-6 M45.5,86.14h6 M371.3,86.14h-6 M45.5,82.90h6 M371.3,82.90h-6 M45.5,80.00h11 M371.3,80.00h-11 M45.5,60.91h6 M371.3,60.91h-6 M45.5,49.75h6 M371.3,49.75h-6 M45.5,41.83h6 M371.3,41.83h-6 M45.5,35.69h6 M371.3,35.69h-6 M45.5,30.67h6 M371.3,30.67h-6 M45.5,26.42h6 M371.3,26.42h-6 M45.5,22.74h6 M371.3,22.74h-6 M45.5,19.50h6 M371.3,19.50h-6 M45.5,458.20h7.5 M371.3,458.20h-7.5 M45.5,442.23h5 M371.3,442.23h-5 M45.5,428.73h5 M371.3,428.73h-5 M45.5,417.04h5 M371.3,417.04h-5 M45.5,406.73h5 M371.3,406.73h-5 M45.5,397.50h7.5 M371.3,397.50h-7.5 M45.5,389.15h5 M371.3,389.15h-5 M45.5,381.53h5 M371.3,381.53h-5 M45.5,374.52h5 M371.3,374.52h-5 M45.5,368.03h5 M371.3,368.03h-5 M45.5,361.99h7.5 M371.3,361.99h-7.5 M45.5,356.34h5 M371.3,356.34h-5 M45.5,351.03h5 M371.3,351.03h-5 M45.5,346.03h5 M371.3,346.03h-5 M45.5,341.29h5 M371.3,341.29h-5 M45.5,336.80h7.5 M371.3,336.80h-7.5 M45.5,332.53h5 M371.3,332.53h-5 M45.5,328.45h5 M371.3,328.45h-5 M45.5,324.56h5 M371.3,324.56h-5 M45.5,320.83h5 M371.3,320.83h-5" stroke-width="1"/>
</g>
<g opacity="0.999">
<text x="51" y="13.9" font-size="12" text-anchor="start" fill="#000" font-family="&quot;Liberation Sans&quot;, sans-serif" letter-spacing="0.15">7000 GeV pp</text>
<text x="366.5" y="13.9" font-size="12" text-anchor="end" fill="#000" font-family="&quot;Liberation Sans&quot;, sans-serif" >Soft QCD</text>
<text x="129.3" y="43.0" font-size="12" text-anchor="start" fill="#000" font-family="&quot;Liberation Sans&quot;, sans-serif" >Momentum fraction z<tspan font-size="10" dy="0.3">(track jets)</tspan></text>
<text x="0" y="0" font-size="12" text-anchor="end" fill="#000" font-family="&quot;Liberation Sans&quot;, sans-serif" transform="translate(16,17) rotate(-90)">(1/Njet)dN/dz</text>
<text x="0" y="0" font-size="9.36" text-anchor="end" fill="#777" font-family="&quot;Liberation Sans&quot;, sans-serif" transform="translate(380,19) rotate(-90)">Rivet 3.1.10, &#8805; 400k events</text>
<text x="0" y="0" font-size="9.36" text-anchor="end" fill="#777" font-family="&quot;Liberation Sans&quot;, sans-serif" transform="translate(381.2,171.8) rotate(-90)">mcplots.cern.ch [arXiv:1306.3436]</text>
<text x="0" y="0" font-size="9" text-anchor="middle" fill="#000" font-family="&quot;Liberation Sans&quot;, sans-serif" transform="translate(17.9,396.7) rotate(-90)">Ratio to ATLAS</text>
<text x="39.2" y="84.9" font-size="10.5" text-anchor="end" fill="#000" font-family="&quot;Liberation Sans&quot;, sans-serif" >10<tspan font-size="8" dy="-4">2</tspan></text>
<text x="40" y="147.8" font-size="10.5" text-anchor="end" fill="#000" font-family="&quot;Liberation Sans&quot;, sans-serif" >10</text>
<text x="40" y="211" font-size="10.5" text-anchor="end" fill="#000" font-family="&quot;Liberation Sans&quot;, sans-serif" >1</text>
<text x="33.4" y="275.9" font-size="10.5" text-anchor="end" fill="#000" font-family="&quot;Liberation Sans&quot;, sans-serif" >10</text>
<rect x="33.1" y="268.5" width="3.6" height="0.9" fill="#333"/>
<text x="40.3" y="271.8" font-size="8.2" text-anchor="end" fill="#000" font-family="&quot;Liberation Sans&quot;, sans-serif" >1</text>
<text x="39" y="341.1" font-size="12" text-anchor="end" fill="#000" font-family="&quot;Liberation Sans&quot;, sans-serif" >2</text>
<text x="374" y="341.1" font-size="12" text-anchor="start" fill="#000" font-family="&quot;Liberation Sans&quot;, sans-serif" >2</text>
<text x="39" y="401.8" font-size="12" text-anchor="end" fill="#000" font-family="&quot;Liberation Sans&quot;, sans-serif" >1</text>
<text x="374" y="401.8" font-size="12" text-anchor="start" fill="#000" font-family="&quot;Liberation Sans&quot;, sans-serif" >1</text>
<text x="39" y="462.5" font-size="12" text-anchor="end" fill="#000" font-family="&quot;Liberation Sans&quot;, sans-serif" >0.5</text>
<text x="374" y="462.5" font-size="12" text-anchor="start" fill="#000" font-family="&quot;Liberation Sans&quot;, sans-serif" >0.5</text>
<text x="45.3" y="489.5" font-size="12" text-anchor="middle" fill="#000" font-family="&quot;Liberation Sans&quot;, sans-serif" >0</text>
<text x="205.3" y="489.5" font-size="12" text-anchor="middle" fill="#000" font-family="&quot;Liberation Sans&quot;, sans-serif" >0.5</text>
<text x="365.3" y="489.5" font-size="12" text-anchor="middle" fill="#000" font-family="&quot;Liberation Sans&quot;, sans-serif" >1</text>
<text x="373.4" y="503.7" font-size="12" text-anchor="end" fill="#000" font-family="&quot;Liberation Sans&quot;, sans-serif" letter-spacing="0.27">Charged Particle z</text>
<text x="168.3" y="301.6" font-size="7.9" text-anchor="start" fill="#999" font-family="&quot;Liberation Sans&quot;, sans-serif" >ATLAS_2011_I919017</text>
<rect x="73.80" y="220.70" width="5.6" height="5.6" fill="#000"/>
<text x="94.4" y="226.8" font-size="9" text-anchor="start" fill="#000" font-family="&quot;Liberation Sans&quot;, sans-serif" letter-spacing="0.17">ATLAS</text>
<polyline points="64.00,237.00 89.00,237.00" fill="none" stroke="#aa5510" stroke-width="1.0" stroke-dasharray="2.2,1.8"/>
<circle cx="76.6" cy="237.0" r="2.6" fill="none" stroke="#aa5510" stroke-width="1.0"/>
<text x="94.6" y="240.2" font-size="9" text-anchor="start" fill="#000" font-family="&quot;Liberation Sans&quot;, sans-serif" letter-spacing="0.17">Herwig++ 2.5.0 default</text>
<polyline points="64.00,250.30 89.00,250.30" fill="none" stroke="#48a018" stroke-width="1.0" stroke-dasharray="2.3,2.0"/>
<rect x="73.90" y="247.60" width="5.4" height="5.4" fill="none" stroke="#48a018" stroke-width="1.1"/>
<text x="94.6" y="253.5" font-size="9" text-anchor="start" fill="#000" font-family="&quot;Liberation Sans&quot;, sans-serif" letter-spacing="0.17">Herwig 7.2.1 default</text>
<polyline points="64.00,263.20 89.00,263.20" fill="none" stroke="#0000ff" stroke-width="1.0"/>
<path d="M76.60,260.00 L79.50,265.80 L73.70,265.80Z" fill="#0000ff"/>
<text x="94.6" y="266.4" font-size="9" text-anchor="start" fill="#000" font-family="&quot;Liberation Sans&quot;, sans-serif" letter-spacing="0.17">Pythia 8.308 default</text>
<polyline points="64.00,275.90 89.00,275.90" fill="none" stroke="#ff0000" stroke-width="1.0" stroke-dasharray="1.1,1.1"/>
<path d="M76.60,272.40 L78.90,275.90 L76.60,279.40 L74.30,275.90Z" fill="#ff0000"/>
<text x="94.6" y="279.09999999999997" font-size="9" text-anchor="start" fill="#000" font-family="&quot;Liberation Sans&quot;, sans-serif" letter-spacing="0.17">Sherpa 2.2.9 default</text>
</g>
</svg></body></html>
